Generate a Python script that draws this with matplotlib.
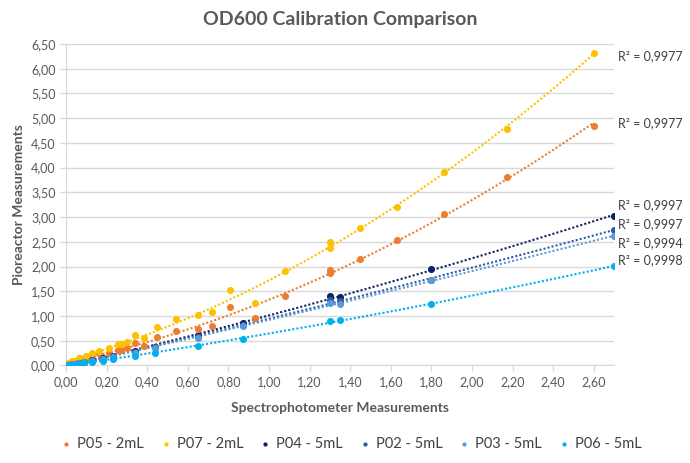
import numpy as np
import matplotlib.pyplot as plt
from matplotlib.ticker import FuncFormatter, MultipleLocator
import matplotlib.transforms as mtransforms

plt.rcParams['font.family'] = ['Lato', 'DejaVu Sans']

# 2 mL series (P05, P07) share the spectrophotometer readings
x_2ml = [0.01, 0.03, 0.065, 0.10, 0.13, 0.16, 0.21, 0.255, 0.27, 0.30, 0.34, 0.385,
         0.45, 0.54, 0.65, 0.72, 0.81, 0.93, 1.08, 1.30, 1.30, 1.45, 1.63, 1.86,
         2.17, 2.60]
p05 = [0.035, 0.08, 0.12, 0.16, 0.21, 0.25, 0.25, 0.31, 0.31, 0.36, 0.46, 0.40,
       0.57, 0.70, 0.745, 0.80, 1.19, 0.97, 1.41, 1.93, 1.88, 2.16, 2.53, 3.07,
       3.82, 4.84]
p07 = [0.045, 0.10, 0.145, 0.19, 0.25, 0.29, 0.35, 0.43, 0.43, 0.47, 0.62, 0.55,
       0.77, 0.94, 1.02, 1.09, 1.53, 1.26, 1.92, 2.50, 2.38, 2.78, 3.21, 3.91,
       4.79, 6.32]

# 5 mL series (P04, P02, P03, P06)
x_5ml = [0.01, 0.03, 0.06, 0.09, 0.13, 0.18, 0.23, 0.34, 0.44, 0.65, 0.87,
         1.30, 1.35, 1.80, 2.70]
p04 = [0.01, 0.03, 0.06, 0.08, 0.11, 0.15, 0.20, 0.30, 0.38, 0.60, 0.85,
       1.41, 1.39, 1.95, 3.03]
p02 = [0.01, 0.03, 0.05, 0.08, 0.11, 0.14, 0.19, 0.28, 0.37, 0.57, 0.82,
       1.33, 1.30, 1.73, 2.74]
p03 = [0.01, 0.03, 0.05, 0.07, 0.10, 0.14, 0.18, 0.26, 0.36, 0.55, 0.79,
       1.27, 1.25, 1.73, 2.61]
p06 = [0.01, 0.02, 0.035, 0.05, 0.07, 0.09, 0.14, 0.19, 0.25, 0.39, 0.54,
       0.905, 0.91, 1.24, 2.01]

series = [
    ('P05 - 2mL', x_2ml, p05, '#ED7D31'),
    ('P07 - 2mL', x_2ml, p07, '#FFC000'),
    ('P04 - 5mL', x_5ml, p04, '#0E2261'),
    ('P02 - 5mL', x_5ml, p02, '#2F5AA6'),
    ('P03 - 5mL', x_5ml, p03, '#5B9BD5'),
    ('P06 - 5mL', x_5ml, p06, '#00B0F0'),
]

r2_labels = ['R² = 0,9977', 'R² = 0,9977', 'R² = 0,9997', 'R² = 0,9997',
             'R² = 0,9994', 'R² = 0,9998']
r2_label_y = [6.25, 4.90, 3.24, 2.85, 2.47, 2.13]

fig = plt.figure(figsize=(6.9, 4.63), dpi=100)
ax = fig.add_axes([0.0957, 0.2106, 0.7943, 0.6944])

for name, xs, ys, col in series:
    xs = np.array(xs)
    ys = np.array(ys)
    # polynomial trendline (order 2), like Excel
    coef = np.polyfit(xs, ys, 2)
    xx = np.linspace(0, xs.max(), 200)
    ax.plot(xx, np.polyval(coef, xx), linestyle=(0, (1, 1)), color=col,
            linewidth=1.5, zorder=2)
    ax.scatter(xs, ys, s=26, color=col, zorder=3, label=name, linewidths=0)

trans = mtransforms.blended_transform_factory(ax.transAxes, ax.transData)
for lab, yy in zip(r2_labels, r2_label_y):
    ax.text(1.008, yy, lab, transform=trans, fontsize=9, color='#404040',
            va='center', ha='left')

ax.set_xlim(0, 2.7)
ax.set_ylim(0, 6.5)
ax.xaxis.set_major_locator(MultipleLocator(0.2))
ax.yaxis.set_major_locator(MultipleLocator(0.5))
fmt = FuncFormatter(lambda v, p: f'{v:.2f}'.replace('.', ','))
ax.xaxis.set_major_formatter(fmt)
ax.yaxis.set_major_formatter(fmt)
ax.set_xticks([t for t in np.arange(0, 2.61, 0.2)])

ax.grid(axis='y', color='#D9D9D9', linewidth=1)
ax.set_axisbelow(True)
for side in ['top', 'right']:
    ax.spines[side].set_visible(False)
for side in ['left', 'bottom']:
    ax.spines[side].set_color('#D9D9D9')
ax.tick_params(axis='both', colors='#D9D9D9', labelcolor='#595959',
               labelsize=9, length=4, width=1)

ax.set_title('OD600 Calibration Comparison', fontsize=14, fontweight='bold',
             color='#595959', pad=14)
ax.set_xlabel('Spectrophotometer Measurements', fontsize=10, fontweight='bold',
              color='#595959', labelpad=10)
ax.set_ylabel('Pioreactor Measurements', fontsize=10, fontweight='bold',
              color='#595959', labelpad=4)

fig.legend(loc='center', bbox_to_anchor=(0.509, 0.041), ncol=6,
           frameon=False, fontsize=10.5, labelcolor='#404040', markerscale=0.6,
           handlelength=0.7, handletextpad=0.4, columnspacing=1.15,
           borderpad=0)

fig.savefig('out.png', dpi=100)
